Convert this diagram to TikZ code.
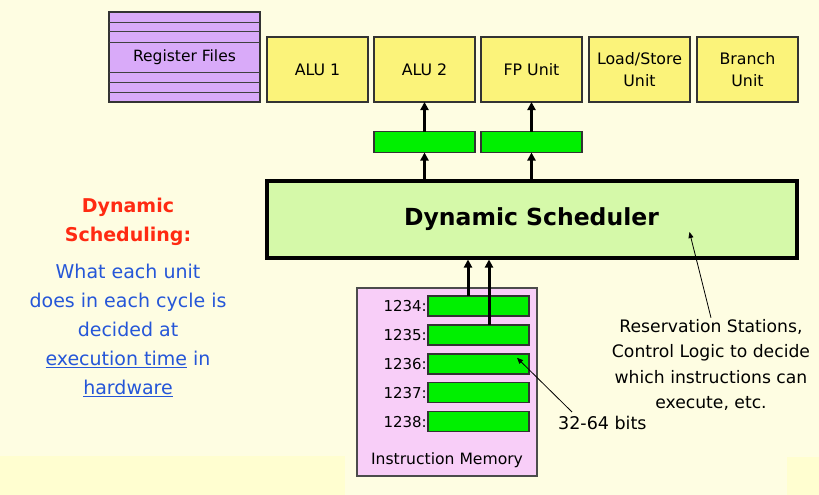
\documentclass[tikz,border=0pt]{standalone}
\usepackage{fontspec}
\setmainfont{DejaVu Sans}
\usetikzlibrary{arrows.meta}
\definecolor{pagebg}{HTML}{FEFDE2}
\definecolor{bandbg}{HTML}{FFFED0}
\definecolor{regviolet}{HTML}{D9AAF9}
\definecolor{unityellow}{HTML}{FBF37A}
\definecolor{slotgreen}{HTML}{00F000}
\definecolor{schedgreen}{HTML}{D5F9A9}
\definecolor{mempink}{HTML}{F8CEF8}
\definecolor{headred}{HTML}{FF2A12}
\definecolor{noteblue}{HTML}{2556D8}

\begin{document}
\begin{tikzpicture}[x=1pt,y=-1pt,
    unit/.style={draw=black!80, line width=1.5pt, fill=unityellow, minimum width=101pt,
        minimum height=65pt, inner sep=0pt, outer sep=0pt, align=center,
        font=\fontsize{15.8}{22.5}\selectfont},
    slot/.style={draw=black!80, line width=1.5pt, fill=slotgreen, minimum width=101pt,
        minimum height=21pt, inner sep=0pt, outer sep=0pt},
    fatarrow/.style={line width=3pt, -{Triangle[length=8pt,width=8pt]}},
    thinarrow/.style={line width=0.8pt, -{Triangle[length=6pt,width=5pt]}}]

    % Page
    \fill[pagebg] (0,0) rectangle (819,495);
    \fill[bandbg] (0,456) rectangle (345,495);
    \fill[bandbg] (787,457) rectangle (819,495);
    \useasboundingbox (0,0) rectangle (819,495);

    % Register files
    \node[draw=black!80, line width=1.5pt, fill=regviolet, minimum width=151pt, minimum height=90pt,
        inner sep=0pt, outer sep=0pt] (regs) at (184.5,57) {};
    \foreach \y in {22.5,32,42.5,72.5,82.5,92.5}
        \draw[black!75, line width=1pt] (regs.west |- 0,\y) -- (regs.east |- 0,\y);
    \node[font=\fontsize{15.5}{18}\selectfont] at (regs.center) {Register Files};

    % Functional units
    \node[unit] (alu1) at (317.5,69.5) {ALU 1};
    \node[unit] (alu2) at (424.5,69.5) {ALU 2};
    \node[unit] (fpu) at (531.5,69.5) {FP Unit};
    \node[unit] (lsu) at (639.5,69.5) {Load/Store\\Unit};
    \node[unit] (bru) at (747.5,69.5) {Branch\\Unit};

    % Issue slots
    \node[slot] (iss2) at (424.5,142) {};
    \node[slot] (issfp) at (531.5,142) {};

    % Scheduler
    \node[draw=black, line width=4pt, fill=schedgreen, minimum width=530pt, minimum height=77pt,
        inner sep=0pt, font=\fontsize{23.5}{28}\selectfont\bfseries] (sched) at (531.5,219) {Dynamic Scheduler};

    \draw[fatarrow] (sched.north -| iss2) -- (iss2.south);
    \draw[fatarrow] (iss2.north) -- (alu2.south);
    \draw[fatarrow] (sched.north -| issfp) -- (issfp.south);
    \draw[fatarrow] (issfp.north) -- (fpu.south);

    % Instruction memory
    \node[draw=black!70, line width=1.2pt, fill=mempink, minimum width=180pt, minimum height=188pt,
        inner sep=0pt] (imem) at (447,382) {};
    \node[font=\fontsize{15.6}{18}\selectfont] at (447,460) {Instruction Memory};
    \foreach \n [count=\i] in {1234,1235,1236,1237,1238} {
        \node[slot, minimum height=20pt] (row\i) at (478.5,{306+(\i-1)*28.9}) {};
        \node[anchor=east, inner sep=1pt, font=\fontsize{15}{18}\selectfont] at (row\i.west) {\n:};
    }
    \coordinate (pick1) at (468,0);
    \coordinate (pick2) at (489,0);
    \draw[fatarrow] (row1.north -| pick1) -- (sched.south -| pick1);
    \draw[fatarrow] (row2.north -| pick2) -- (sched.south -| pick2);

    % Notes
    \node[anchor=west, inner sep=1pt, font=\fontsize{17.5}{20}\selectfont] (bits) at (557,423) {32-64 bits};
    \draw[thinarrow] ([shift={(15,-11)}]bits.west) -- ([shift={(-12,-6)}]row3.east);

    \node[align=center, font=\fontsize{17.2}{25.5}\selectfont] (resv) at (711,365)
        {Reservation Stations,\\Control Logic to decide\\which instructions can\\execute, etc.};
    \draw[thinarrow] ([yshift=-2pt]resv.north) -- ([shift={(158,13)}]sched.center);

    % Left remark
    \node[align=center, text=headred, font=\fontsize{19}{29}\selectfont\bfseries] (remhead) at (128,222)
        {Dynamic\\Scheduling:};
    \node[align=center, text=noteblue, font=\fontsize{19}{29}\selectfont] (rembody) at (128,330)
        {What each unit\\does in each cycle is\\decided at\\\underline{execution time} in\\\underline{hardware}};
\end{tikzpicture}
\end{document}
